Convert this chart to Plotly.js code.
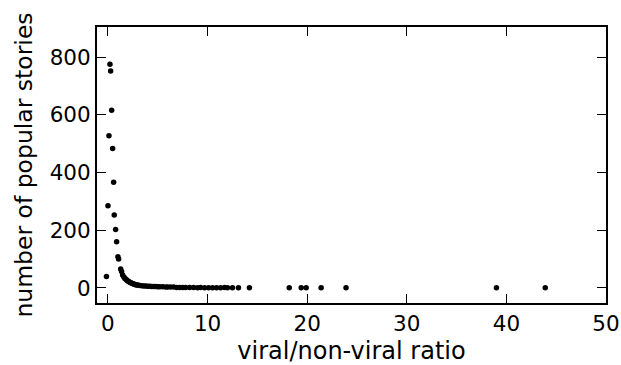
<!DOCTYPE html>
<html>
<head>
<meta charset="utf-8">
<script src="https://cdn.plot.ly/plotly-3.0.1.min.js"></script>
<style>html,body{margin:0;padding:0;background:#fff;}#chart{width:621px;height:365px;}</style>
</head>
<body>
<div id="chart"></div>
<script>
var ratio = [-0.15, 0.0, 0.1, 0.2, 0.27, 0.37, 0.47, 0.57, 0.63, 0.77, 0.87, 1.0, 1.07, 1.27, 1.37, 1.47, 1.6,
  1.7, 1.8, 1.9, 2.0, 2.1, 2.2, 2.3, 2.4, 2.5, 2.6, 2.7, 2.8, 2.9, 3.0, 3.2, 3.4, 3.6, 3.8, 4.0, 4.2, 4.4, 4.6, 4.8,
  5.0, 5.2, 5.5, 5.8, 6.0, 6.3, 6.6, 6.9, 7.2, 7.5, 7.8, 8.2, 8.6, 9.0, 9.3, 9.7, 10.1, 10.5, 10.9, 11.3, 11.7, 12.0,
  12.5, 13.1, 14.2, 18.2, 19.4, 19.9, 21.4, 23.9, 39.0, 43.9];
var stories = [40, 285, 527, 775, 752, 616, 483, 366, 253, 203, 160, 108, 100, 66, 57, 45, 38,
  33, 30, 27, 24, 22, 20, 18, 16, 15, 14, 12, 11, 10, 10, 9, 8, 7, 7, 6, 6, 5, 5, 5,
  4, 4, 4, 3, 3, 3, 3, 2, 2, 2, 2, 2, 2, 1, 2, 1, 1, 1, 1, 1, 2, 1,
  1, 1, 1, 1, 1, 1, 1, 1, 1, 1];
var xTicks = [0, 10, 20, 30, 40, 50];
var yTicks = [0, 200, 400, 600, 800];

var trace = {
  x: ratio, y: stories, type: 'scatter', mode: 'markers',
  marker: {color: '#000', size: 5.5}, hoverinfo: 'none'
};
var axisCommon = {
  showline: true, linecolor: '#000', linewidth: 2, mirror: 'ticks',
  ticks: 'inside', ticklen: 9, tickwidth: 1, tickcolor: '#000',
  showgrid: false, zeroline: false,
  tickfont: {family: 'DejaVu Sans', size: 21.5, color: '#000'}
};
var layout = {
  width: 621, height: 365,
  margin: {l: 97, r: 15, t: 27, b: 62},
  paper_bgcolor: '#fff', plot_bgcolor: '#fff',
  showlegend: false,
  xaxis: Object.assign({}, axisCommon, {
    range: [-1.1, 50], tickmode: 'array', tickvals: xTicks, ticktext: xTicks.map(String),
    title: {text: 'viral/non-viral ratio', font: {family: 'DejaVu Sans', size: 24, color: '#000'}, standoff: 9}
  }),
  yaxis: Object.assign({}, axisCommon, {
    range: [-52, 904], tickmode: 'array', tickvals: yTicks, ticktext: yTicks.map(String),
    title: {text: 'number of popular stories', font: {family: 'DejaVu Sans', size: 23.5, color: '#000'}, standoff: 10}
  })
};
Plotly.newPlot('chart', [trace], layout, {displayModeBar: false, staticPlot: true});
</script>
</body>
</html>
